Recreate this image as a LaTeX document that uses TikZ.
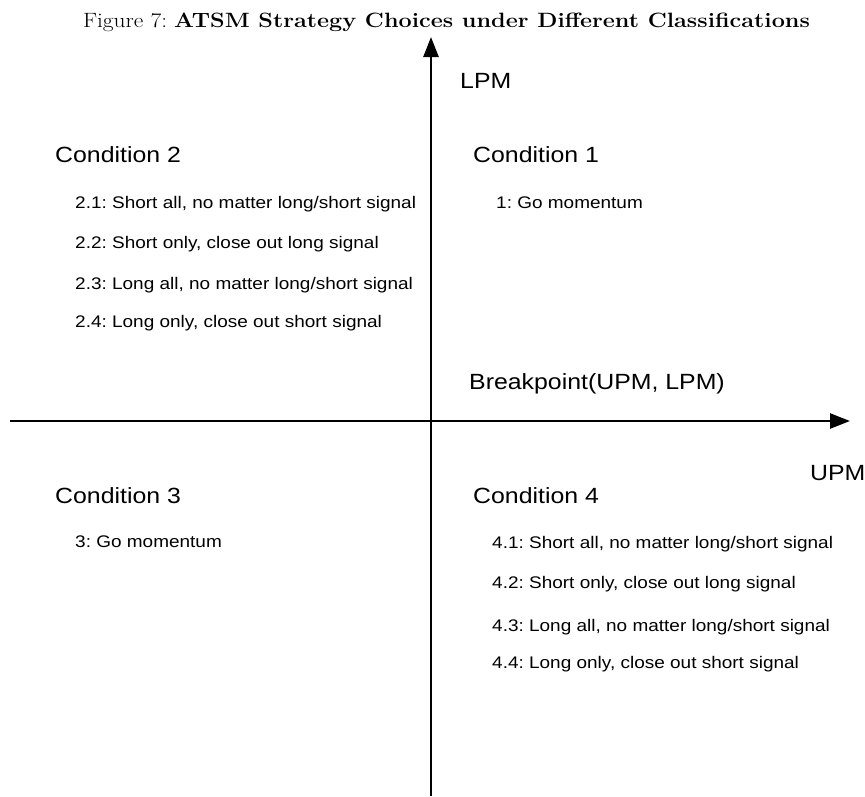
\documentclass[tikz,border=0pt]{standalone}
\usepackage{fontspec}
\usepackage{graphicx}
\newfontfamily\hv{Liberation Sans}
\usetikzlibrary{arrows.meta}
\frenchspacing
\newcommand{\wide}[1]{\scalebox{1.13}[1]{#1}}
\begin{document}
\begin{tikzpicture}[x=1pt,y=-1pt,
  axis/.style={line width=2.6pt,-{Triangle[length=20pt,width=15pt]}},
  big/.style={anchor=base west,inner sep=0pt,font=\hv\fontsize{22}{26}\selectfont},
  small/.style={anchor=base west,inner sep=0pt,font=\hv\fontsize{16.8}{20}\selectfont},
  ttl/.style={anchor=base,inner sep=0pt,font=\fontsize{20.7}{24}\selectfont}]
\useasboundingbox (0,0) rectangle (865,796);
\node[ttl] (title) at (446.5,27) {\wide{Figure 7: \textbf{ATSM Strategy Choices under Different Classifications}}};
\coordinate (xl) at (10,421);
\coordinate (xr) at (850,421);
\coordinate (yb) at (431,796);
\coordinate (yt) at (431,37);
\draw[axis] (xl) -- (xr);
\draw[axis] (yb) -- (yt);
\node[big] (lpm) at (460,88) {\wide{LPM}};
\node[big] (upm) at (810,480) {\wide{UPM}};
\node[big] (bp) at (469,389) {\wide{Breakpoint(UPM, LPM)}};
\node[big] (c2) at (55,162) {\wide{Condition 2}};
\node[big] (c1) at (473,162) {\wide{Condition 1}};
\node[big] (c3) at (55,503) {\wide{Condition 3}};
\node[big] (c4) at (473,503) {\wide{Condition 4}};
\node[small] (i21) at (75,208) {\wide{2.1: Short all, no matter long/short signal}};
\node[small] (i22) at (75,248) {\wide{2.2: Short only, close out long signal}};
\node[small] (i23) at (75,289) {\wide{2.3: Long all, no matter long/short signal}};
\node[small] (i24) at (75,327) {\wide{2.4: Long only, close out short signal}};
\node[small] (i1) at (496,208) {\wide{1: Go momentum}};
\node[small] (i3) at (75,547) {\wide{3: Go momentum}};
\node[small] (i41) at (492,548) {\wide{4.1: Short all, no matter long/short signal}};
\node[small] (i42) at (492,588) {\wide{4.2: Short only, close out long signal}};
\node[small] (i43) at (492,631) {\wide{4.3: Long all, no matter long/short signal}};
\node[small] (i44) at (492,668) {\wide{4.4: Long only, close out short signal}};
\end{tikzpicture}
\end{document}
